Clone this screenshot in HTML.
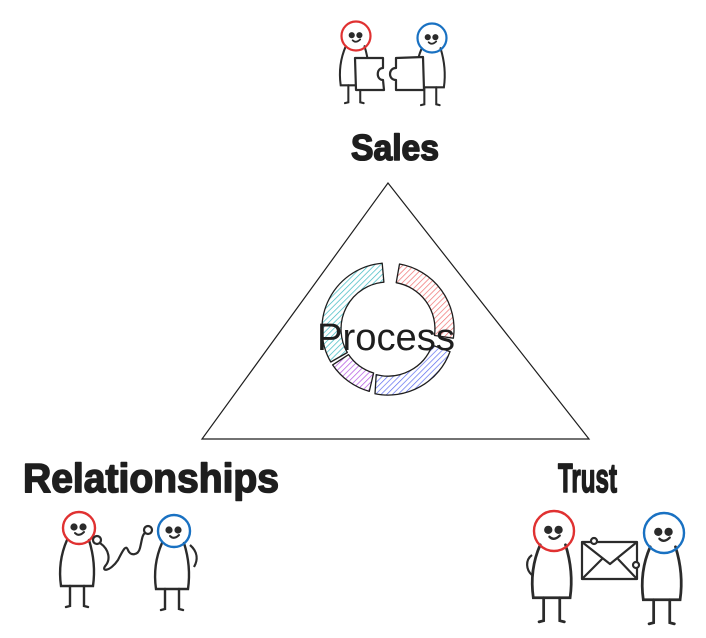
<!DOCTYPE html>
<html><head><style>
html,body{margin:0;padding:0;background:#fff;}
svg{display:block;}
</style></head><body>
<svg width="706" height="638" viewBox="0 0 706 638" xmlns="http://www.w3.org/2000/svg">
<defs>
<pattern id="hc" width="4" height="4" patternUnits="userSpaceOnUse" patternTransform="rotate(45)"><line x1="0" y1="0" x2="0" y2="4" stroke="#3bb8c0" stroke-width="1.4"/></pattern>
<pattern id="hr" width="4" height="4" patternUnits="userSpaceOnUse" patternTransform="rotate(45)"><line x1="0" y1="0" x2="0" y2="4" stroke="#f07070" stroke-width="1.4"/></pattern>
<pattern id="hb" width="4" height="4" patternUnits="userSpaceOnUse" patternTransform="rotate(45)"><line x1="0" y1="0" x2="0" y2="4" stroke="#5b6cf0" stroke-width="1.4"/></pattern>
<pattern id="hp" width="4" height="4" patternUnits="userSpaceOnUse" patternTransform="rotate(45)"><line x1="0" y1="0" x2="0" y2="4" stroke="#b050e0" stroke-width="1.4"/></pattern>
<g id="fig" fill="none" stroke="#2b2b2b" stroke-width="2.4" stroke-linecap="round">
  <path d="M-12,12 C-19,28 -20,44 -18,58 L14,58 C16,44 15,28 10,12" fill="#fff"/>
  <path d="M-9,58 L-9,78 L-13,79 M5,58 L5,78 L9,79"/>
  <circle cx="-5" cy="-1" r="3.6" fill="#2b2b2b" stroke="none"/>
  <circle cx="4" cy="-1" r="3.6" fill="#2b2b2b" stroke="none"/>
  <path d="M-4,5 Q0,9 5,4" stroke-width="2"/>
</g>
</defs>

<path d="M388,183 L202,439 L589,439 Z" fill="none" stroke="#1e1e1e" stroke-width="1.2"/>

<g stroke="#1e1e1e" stroke-width="1.3" stroke-linejoin="round">
<path d="M330.8,362 A66,66 0 0 1 382.2,263.2 L383.9,282.2 A47,47 0 0 0 347.3,352.5 Z" fill="url(#hc)"/>
<path d="M399.5,264 A66,66 0 0 1 453.4,338.2 L434.5,335.5 A47,47 0 0 0 396.2,282.7 Z" fill="url(#hr)"/>
<path d="M450,351.6 A66,66 0 0 1 375,393.8 L376.2,374.6 A47,47 0 0 0 432.2,345.1 Z" fill="url(#hb)"/>
<path d="M369.3,391.4 A66,66 0 0 1 332.6,364.9 L348.6,354.6 A47,47 0 0 0 373.6,373 Z" fill="url(#hp)"/>
</g>
<text x="386" y="350" text-anchor="middle" font-family="Liberation Sans, sans-serif" font-size="38" fill="#1e1e1e" textLength="138" lengthAdjust="spacingAndGlyphs">Process</text>

<g font-family="Liberation Sans, sans-serif" font-weight="bold" fill="#1e1e1e" stroke="#1e1e1e" stroke-width="1.6" stroke-linejoin="round">
<text x="351" y="160" font-size="36" textLength="88" lengthAdjust="spacingAndGlyphs">Sales</text>
<text x="23" y="492" font-size="41" textLength="256" lengthAdjust="spacingAndGlyphs">Relationships</text>
<text x="558" y="492" font-size="41" textLength="59" lengthAdjust="spacingAndGlyphs">Trust</text>
</g>

<use href="#fig" transform="translate(356,36) scale(0.85)"/>
<use href="#fig" transform="translate(432,38) scale(0.85)"/>
<circle cx="356" cy="36" r="14.5" fill="none" stroke="#e03131" stroke-width="2.2"/>
<circle cx="432" cy="38" r="14.5" fill="none" stroke="#1971c2" stroke-width="2.2"/>
<g fill="#fff" stroke="#2b2b2b" stroke-width="2.2" stroke-linejoin="round">
<path d="M355,58 L383,58 L383,68 C376,68 376,80 383,80 L384,90 L356,90 Z"/>
<path d="M396,58 L423,57 L424,90 L396,90 L396,80 C388,80 388,68 396,68 Z"/>
</g>

<use href="#fig" transform="translate(79,528) scale(1)"/>
<use href="#fig" transform="translate(174,531) scale(1)"/>
<circle cx="79" cy="528" r="16" fill="none" stroke="#e03131" stroke-width="2.4"/>
<circle cx="174" cy="531" r="16" fill="none" stroke="#1971c2" stroke-width="2.4"/>
<g fill="none" stroke="#2b2b2b" stroke-width="2.2">
<circle cx="97" cy="540" r="4"/>
<circle cx="148" cy="530" r="4"/>
<path d="M100,543 C110,550 110,560 106,565 C100,572 110,572 118,560 C124,548 126,545 128,550 C130,556 138,556 140,548 C142,540 142,535 145,533"/>
<path d="M190,545 C198,552 198,560 194,567"/>
</g>

<use href="#fig" transform="translate(554,531) scale(1.15)"/>
<use href="#fig" transform="translate(664,533) scale(1.15)"/>
<circle cx="554" cy="531" r="20" fill="none" stroke="#e03131" stroke-width="2.4"/>
<circle cx="664" cy="533" r="20" fill="none" stroke="#1971c2" stroke-width="2.4"/>
<g fill="#fff" stroke="#2b2b2b" stroke-width="2.2" stroke-linejoin="round">
<rect x="582" y="542" width="55" height="37"/>
<path d="M582,542 L610,564 L637,542 M582,579 L602,559 M637,579 L618,559" fill="none"/>
<circle cx="594" cy="541" r="3"/>
<circle cx="636" cy="565" r="3"/>
<path d="M532,555 C525,560 526,570 532,575" fill="none"/>
</g>
</svg>
</body></html>
